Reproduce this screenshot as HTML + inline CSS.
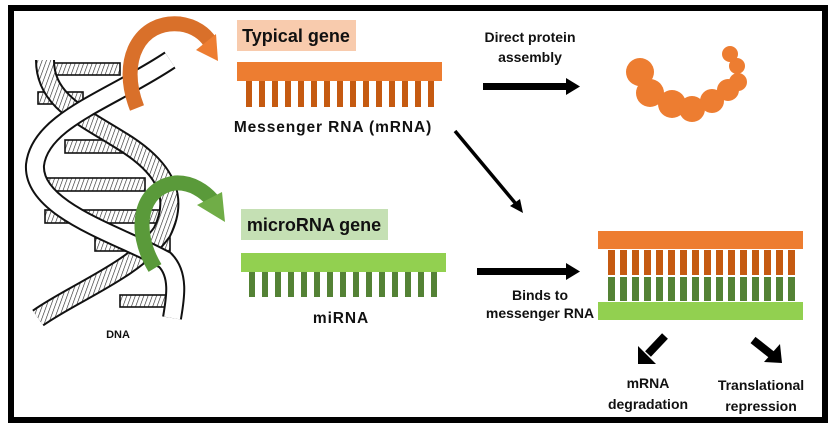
<!DOCTYPE html>
<html><head><meta charset="utf-8"><style>
html,body{margin:0;padding:0;background:#fff;}
svg{display:block;}
text{font-family:"Liberation Sans",Arial,sans-serif;font-weight:bold;}
</style></head><body>
<svg width="831" height="425" viewBox="0 0 831 425" xmlns="http://www.w3.org/2000/svg">
<defs>
<pattern id="h" width="4" height="4" patternUnits="userSpaceOnUse" patternTransform="rotate(20)">
<rect width="4" height="4" fill="#fff"/><line x1="0" y1="0" x2="0" y2="4" stroke="#222" stroke-width="1.2"/>
</pattern>
</defs>
<rect x="11" y="8" width="814" height="412" fill="#fff" stroke="#000" stroke-width="6"/>

<!-- DNA -->
<g stroke="#111" stroke-width="1.6" fill="url(#h)">
<rect x="45" y="63" width="75" height="12"/>
<rect x="38" y="92" width="45" height="12"/>
<rect x="65" y="140" width="70" height="13"/>
<rect x="35" y="178" width="110" height="13"/>
<rect x="45" y="210" width="125" height="13"/>
<rect x="95" y="238" width="75" height="13"/>
<rect x="120" y="295" width="55" height="12"/>
</g>
<g fill="none">
<path d="M45 60 C45 100 80 115 120 140 C170 170 178 200 162 232 C135 270 75 292 38 318" stroke="#111" stroke-width="20"/>
<path d="M45 60 C45 100 80 115 120 140 C170 170 178 200 162 232 C135 270 75 292 38 318" stroke="url(#h)" stroke-width="16"/>
<path d="M170 60 C110 100 40 120 35 165 C32 210 120 235 165 260 C180 275 175 300 172 318" stroke="#111" stroke-width="20"/>
<path d="M170 60 C110 100 40 120 35 165 C32 210 120 235 165 260 C180 275 175 300 172 318" stroke="#fff" stroke-width="16"/>
</g>

<!-- curved arrows -->
<path d="M137 108 C118 60 140 20 180 24 C195 26 205 34 210 42" fill="none" stroke="#d9702a" stroke-width="15"/>
<polygon points="196,50 218,61 216,34" fill="#ed7d31"/>
<path d="M155 268 C132 230 140 188 175 183 C192 182 205 192 212 200" fill="none" stroke="#5a9a3a" stroke-width="15"/>
<polygon points="197,205 225,222 222,192" fill="#70ad47"/>
<text x="118" y="338" font-size="11" text-anchor="middle" fill="#111">DNA</text>

<!-- typical gene -->
<rect x="237" y="20" width="119" height="31" fill="#f8cbad"/>
<text x="296" y="42" font-size="18" text-anchor="middle" fill="#111">Typical gene</text>
<rect x="237" y="62" width="205" height="19" fill="#ed7d31"/>
<g fill="#c55a11">
<rect x="246" y="81" width="6" height="26"/><rect x="259" y="81" width="6" height="26"/><rect x="272" y="81" width="6" height="26"/><rect x="285" y="81" width="6" height="26"/><rect x="298" y="81" width="6" height="26"/><rect x="311" y="81" width="6" height="26"/><rect x="324" y="81" width="6" height="26"/><rect x="337" y="81" width="6" height="26"/><rect x="350" y="81" width="6" height="26"/><rect x="363" y="81" width="6" height="26"/><rect x="376" y="81" width="6" height="26"/><rect x="389" y="81" width="6" height="26"/><rect x="402" y="81" width="6" height="26"/><rect x="415" y="81" width="6" height="26"/><rect x="428" y="81" width="6" height="26"/>
</g>
<text x="333" y="132" font-size="15.5" text-anchor="middle" fill="#111" style="letter-spacing:0.9px">Messenger RNA (mRNA)</text>

<!-- microRNA gene -->
<rect x="241" y="209" width="147" height="31" fill="#c5e0b4"/>
<text x="314" y="231" font-size="18" text-anchor="middle" fill="#111">microRNA gene</text>
<rect x="241" y="253" width="205" height="19" fill="#92d050"/>
<g fill="#548235">
<rect x="249" y="272" width="6" height="25"/><rect x="262" y="272" width="6" height="25"/><rect x="275" y="272" width="6" height="25"/><rect x="288" y="272" width="6" height="25"/><rect x="301" y="272" width="6" height="25"/><rect x="314" y="272" width="6" height="25"/><rect x="327" y="272" width="6" height="25"/><rect x="340" y="272" width="6" height="25"/><rect x="353" y="272" width="6" height="25"/><rect x="366" y="272" width="6" height="25"/><rect x="379" y="272" width="6" height="25"/><rect x="392" y="272" width="6" height="25"/><rect x="405" y="272" width="6" height="25"/><rect x="418" y="272" width="6" height="25"/><rect x="431" y="272" width="6" height="25"/>
</g>
<text x="341" y="323" font-size="15.5" text-anchor="middle" fill="#111" style="letter-spacing:0.9px">miRNA</text>

<!-- arrows -->
<rect x="483" y="83" width="85" height="7" fill="#000"/>
<polygon points="566,78 580,86.5 566,95" fill="#000"/>
<text x="530" y="42" font-size="14" text-anchor="middle" fill="#111">Direct protein</text>
<text x="530" y="62" font-size="14" text-anchor="middle" fill="#111">assembly</text>
<line x1="455" y1="131" x2="516" y2="204" stroke="#000" stroke-width="3.5"/>
<polygon points="510,206 523,213 520,199" fill="#000"/>
<rect x="477" y="268" width="91" height="7" fill="#000"/>
<polygon points="566,263 580,271.5 566,280" fill="#000"/>
<text x="540" y="300" font-size="14" text-anchor="middle" fill="#111">Binds to</text>
<text x="540" y="318" font-size="14" text-anchor="middle" fill="#111">messenger RNA</text>

<!-- protein -->
<g fill="#ed7d31">
<circle cx="640" cy="72" r="14"/><circle cx="650" cy="93" r="14"/><circle cx="672" cy="104" r="14"/><circle cx="692" cy="109" r="13"/><circle cx="712" cy="101" r="12"/><circle cx="728" cy="90" r="11"/><circle cx="738" cy="82" r="9"/><circle cx="737" cy="66" r="8"/><circle cx="730" cy="54" r="8"/>
</g>

<!-- complex -->
<rect x="598" y="231" width="205" height="18" fill="#ed7d31"/>
<g fill="#c55a11">
<rect x="608" y="250" width="7" height="25"/><rect x="620" y="250" width="7" height="25"/><rect x="632" y="250" width="7" height="25"/><rect x="644" y="250" width="7" height="25"/><rect x="656" y="250" width="7" height="25"/><rect x="668" y="250" width="7" height="25"/><rect x="680" y="250" width="7" height="25"/><rect x="692" y="250" width="7" height="25"/><rect x="704" y="250" width="7" height="25"/><rect x="716" y="250" width="7" height="25"/><rect x="728" y="250" width="7" height="25"/><rect x="740" y="250" width="7" height="25"/><rect x="752" y="250" width="7" height="25"/><rect x="764" y="250" width="7" height="25"/><rect x="776" y="250" width="7" height="25"/><rect x="788" y="250" width="7" height="25"/>
</g>
<g fill="#548235">
<rect x="608" y="277" width="7" height="24"/><rect x="620" y="277" width="7" height="24"/><rect x="632" y="277" width="7" height="24"/><rect x="644" y="277" width="7" height="24"/><rect x="656" y="277" width="7" height="24"/><rect x="668" y="277" width="7" height="24"/><rect x="680" y="277" width="7" height="24"/><rect x="692" y="277" width="7" height="24"/><rect x="704" y="277" width="7" height="24"/><rect x="716" y="277" width="7" height="24"/><rect x="728" y="277" width="7" height="24"/><rect x="740" y="277" width="7" height="24"/><rect x="752" y="277" width="7" height="24"/><rect x="764" y="277" width="7" height="24"/><rect x="776" y="277" width="7" height="24"/><rect x="788" y="277" width="7" height="24"/>
</g>
<rect x="598" y="302" width="205" height="18" fill="#92d050"/>

<line x1="665" y1="336" x2="648" y2="354" stroke="#000" stroke-width="8"/>
<polygon points="638,346 638,364 656,364" fill="#000"/>
<line x1="753" y1="340" x2="772" y2="355" stroke="#000" stroke-width="8"/>
<polygon points="780,344 782,363 764,362" fill="#000"/>
<text x="648" y="388" font-size="14" text-anchor="middle" fill="#111">mRNA</text>
<text x="648" y="409" font-size="14" text-anchor="middle" fill="#111">degradation</text>
<text x="761" y="390" font-size="14" text-anchor="middle" fill="#111">Translational</text>
<text x="761" y="411" font-size="14" text-anchor="middle" fill="#111">repression</text>
</svg>
</body></html>
